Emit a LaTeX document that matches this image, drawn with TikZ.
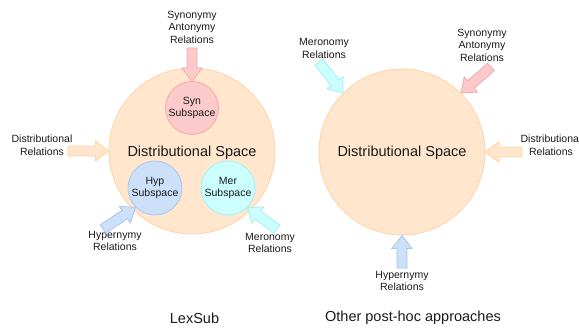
\documentclass[tikz,border=0pt]{standalone}
\usepackage{fontspec}
\setmainfont{Liberation Sans}
\usetikzlibrary{calc}
\definecolor{orfill}{HTML}{FFE6CC}
\definecolor{ordraw}{HTML}{FFD3A6}
\definecolor{pkfill}{HTML}{FCCACA}
\definecolor{pkdraw}{HTML}{F4A9A9}
\definecolor{blfill}{HTML}{CCE0FA}
\definecolor{bldraw}{HTML}{A9C8F0}
\definecolor{cyfill}{HTML}{CCFFFF}
\definecolor{cydraw}{HTML}{A3EFEF}
\definecolor{txt}{HTML}{1A1A1A}
\tikzset{
  bigspace/.style={circle, fill=orfill, draw=ordraw, line width=0.8pt, minimum size=166pt, inner sep=0pt,
    font=\fontsize{14.5}{17}\selectfont, text=txt},
  subspace/.style={circle, line width=0.8pt, minimum size=54pt, inner sep=0pt, align=center,
    font=\fontsize{10.5}{12.5}\selectfont, text=txt},
  lbl/.style={align=center, font=\fontsize{10.5}{12.5}\selectfont, text=txt, inner sep=0pt},
  title/.style={font=\fontsize{14.5}{17}\selectfont, text=txt, inner sep=0pt},
  orarrow/.style={fill=orfill, draw=ordraw, line width=0.8pt, line join=miter},
  pkarrow/.style={fill=pkfill, draw=pkdraw, line width=0.8pt, line join=miter},
  blarrow/.style={fill=blfill, draw=bldraw, line width=0.8pt, line join=miter},
  cyarrow/.style={fill=cyfill, draw=cydraw, line width=0.8pt, line join=miter},
}
% block arrow: #1 start, #2 tip, #3 style
\newcommand\blockarrow[3]{%
  \coordinate (ba-h) at ($(#2)!13pt!(#1)$);
  \filldraw[#3] ($(#1)!5pt!90:(#2)$) -- ($(ba-h)!5pt!-90:(#1)$) -- ($(ba-h)!10pt!-90:(#1)$) -- (#2)
     -- ($(ba-h)!10pt!90:(#1)$) -- ($(ba-h)!5pt!90:(#1)$) -- ($(#1)!5pt!-90:(#2)$) -- cycle;
}
\begin{document}
\begin{tikzpicture}[x=1pt, y=-1pt]
\useasboundingbox (0,0) rectangle (579,329);
% ---------- LexSub ----------
\node[bigspace] (bigL) at (192,151) {};
\node[title] (dsL) at (192,153) {Distributional Space};
\node[subspace, fill=pkfill, draw=pkdraw, minimum size=53pt] (syn) at (192,108) {Syn\\Subspace};
\node[subspace, fill=blfill, draw=bldraw] (hyp) at (155,188) {Hyp\\Subspace};
\node[subspace, fill=cyfill, draw=cydraw] (mer) at (228,188) {Mer\\Subspace};

\node[lbl] (synL) at (192,27) {Synonymy\\Antonymy\\Relations};
\node[lbl] (distL) at (42,145) {Distributional\\Relations};
\node[lbl] (hypL) at (115,241) {Hypernymy\\Relations};
\node[lbl] (merL) at (270,243) {Meronomy\\Relations};

\coordinate (synLs) at (192,48);
\coordinate (distLs) at (68,151);
\coordinate (hypLs) at (103,229);
\coordinate (merLs) at (277,229);
\blockarrow{synLs}{syn.north}{pkarrow}
\blockarrow{distLs}{bigL.west}{orarrow}
\blockarrow{hypLs}{hyp.225}{blarrow}
\blockarrow{merLs}{mer.-45}{cyarrow}

\node[title] (lexsub) at (194.5,318) {LexSub};

% ---------- Other post-hoc approaches ----------
\node[bigspace] (bigR) at (402,152) {};
\node[title] (dsR) at (402,153) {Distributional Space};

\node[lbl] (merR) at (324,48.5) {Meronomy\\Relations};
\node[lbl] (synR) at (482,45) {Synonymy\\Antonymy\\Relations};
\node[lbl] (distR) at (551,145) {Distributional\\Relations};
\node[lbl] (hypR) at (402,281) {Hypernymy\\Relations};

\coordinate (merRs) at (319,62);
\coordinate (synRs) at (491,67);
\coordinate (distRs) at (522,152);
\coordinate (hypRs) at (402,268);
\blockarrow{merRs}{bigR.135}{cyarrow}
\blockarrow{synRs}{bigR.45}{pkarrow}
\blockarrow{distRs}{bigR.east}{orarrow}
\blockarrow{hypRs}{bigR.south}{blarrow}

\node[title] (other) at (413,318) {Other post-hoc approaches};
\end{tikzpicture}
\end{document}
